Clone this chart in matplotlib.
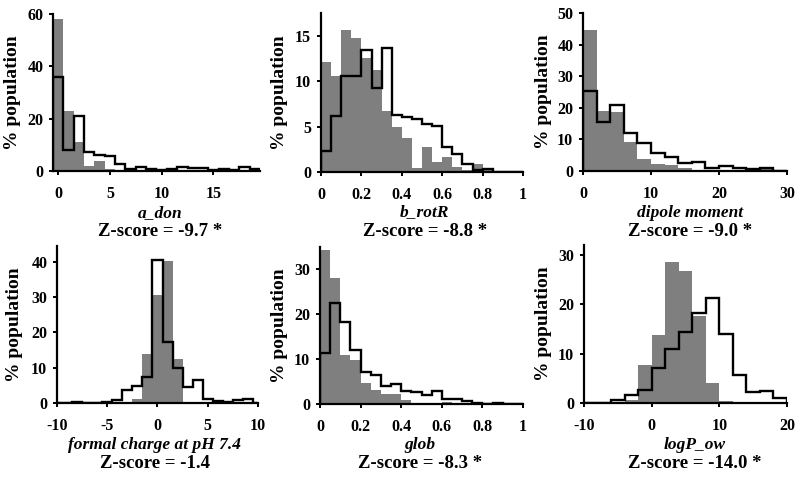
import numpy as np
import matplotlib
matplotlib.use('Agg')
import matplotlib.pyplot as plt

plt.rcParams['font.family'] = ['Liberation Serif', 'DejaVu Serif']
plt.rcParams['font.weight'] = 'bold'

# a_don : bins of width 1 centred on 0..19
adon_edges = np.arange(-0.5, 20.0, 1.0)
adon_ref = [58, 23, 11, 2, 3.7, 0.8, 0.3, 0, 0, 0, 0, 0, 0, 0, 0, 0, 0, 0, 0, 0]
adon_test = [36, 8, 21, 7.2, 6.3, 5.7, 2.5, 0.9, 1.6, 0.9, 0.3, 0.8, 1.7, 1.0, 1.2, 0.3, 0.6, 0.2, 1.7, 0.6]

# b_rotR : bins of 0.05 from 0 to 1
rotr_edges = np.linspace(0, 1, 21)
rotr_ref = [12.1, 10.6, 15.6, 14.8, 12.6, 11.2, 6.7, 4.9, 3.7, 0.4, 2.8, 1.1, 1.7, 0.5, 0.2, 0.9, 0.2, 0, 0, 0]
rotr_test = [2.3, 6.2, 10.6, 10.6, 13.4, 9.2, 13.6, 6.3, 6.0, 5.8, 5.3, 5.1, 2.8, 2.0, 0.9, 0.2, 0.3, 0, 0, 0]

# dipole moment : bins of 2 from 0 to 30
dip_edges = np.arange(0, 31, 2)
dip_ref = [44.5, 19, 18.6, 9.1, 3.7, 2.2, 2.0, 0.8, 0.4, 0.2, 0.1, 0.1, 0.3, 0.5, 0]
dip_test = [25.2, 15.6, 21, 12.1, 8.8, 5.8, 4.3, 2.4, 2.7, 1.0, 1.6, 0.8, 0.6, 1.0, 0]

# formal charge at pH 7.4 : bins of width 1 centred on -10..10
chg_edges = np.arange(-10.5, 11.0, 1.0)
chg_ref = [0, 0, 0, 0, 0, 0, 0, 0, 1.1, 13.8, 30.5, 40.3, 12.6, 0, 0, 0, 0, 0, 0, 0, 0]
chg_test = [0, 0, 0.3, 0.1, 0, 0.3, 0.8, 3.6, 4.9, 7.4, 40.6, 17.4, 10.0, 4.4, 6.5, 1.0, 0.6, 0.3, 0.8, 1.0, 0]

# glob : bins of 0.05 from 0 to 1
glob_edges = np.linspace(0, 1, 21)
glob_ref = [34.4, 28.2, 10.9, 9.8, 4.6, 3.2, 2.2, 2.2, 1.0, 0.2, 0.1, 0.1, 0.4, 0, 0, 0, 0, 0, 0, 0]
glob_test = [11.3, 22.6, 18.2, 12.0, 7.1, 6.5, 4.0, 4.4, 2.9, 2.6, 1.9, 2.8, 1.1, 1.1, 0.7, 0.2, 0.1, 0.2, 0, 0]

# logP_ow : bins of 2 from -10 to 20
logp_edges = np.arange(-10, 21, 2)
logp_ref = [0, 0, 0.2, 0.6, 7.7, 13.7, 28.6, 26.7, 17.7, 4.1, 0.4, 0, 0, 0, 0]
logp_test = [0, 0.1, 0.7, 1.6, 2.6, 7.1, 11.0, 14.4, 18.3, 21.3, 14.0, 5.6, 2.2, 2.5, 1.0]

panels = [
    ('a_don', 'Z-score = -9.7 *', adon_edges, adon_ref, adon_test, (-0.5, 19.5), (0, 60), [0, 5, 10, 15], [0, 20, 40, 60]),
    ('b_rotR', 'Z-score = -8.8 *', rotr_edges, rotr_ref, rotr_test, (0, 1), (0, 17.5), [0, 0.2, 0.4, 0.6, 0.8, 1], [0, 5, 10, 15]),
    ('dipole moment', 'Z-score = -9.0 *', dip_edges, dip_ref, dip_test, (0, 30), (0, 50), [0, 10, 20, 30], [0, 10, 20, 30, 40, 50]),
    ('formal charge at pH 7.4', 'Z-score = -1.4', chg_edges, chg_ref, chg_test, (-10, 10), (0, 44.5), [-10, -5, 0, 5, 10], [0, 10, 20, 30, 40]),
    ('glob', 'Z-score = -8.3 *', glob_edges, glob_ref, glob_test, (0, 1), (0, 35), [0, 0.2, 0.4, 0.6, 0.8, 1], [0, 10, 20, 30]),
    ('logP_ow', 'Z-score = -14.0 *', logp_edges, logp_ref, logp_test, (-10, 20), (0, 32), [-10, 0, 10, 20], [0, 10, 20, 30]),
]

# axes boxes in pixels: left, right, top, bottom
boxes = [(53, 260, 14, 171), (321, 523, 13, 172), (583, 787, 13, 171),
         (57, 258, 246, 403), (320, 523, 247, 404), (584, 787, 245, 403)]
# label centres: x of name/z lines, y name, y z-score, x of y label
label_pos = [(160, 213, 232, 13), (425, 212, 232, 279), (690, 213, 232, 543),
             (155, 445, 464, 15), (420, 445, 464, 280), (695, 445, 464, 544)]

W, H = 800, 478
fig = plt.figure(figsize=(8, 4.78), dpi=100)

for (name, zs, edges, ref, test, xl, yl, xt, yt), (l, r, t, b), (lx, ly1, ly2, yx) in zip(panels, boxes, label_pos):
    ax = fig.add_axes([l / W, 1 - b / H, (r - l) / W, (b - t) / H])
    ax.bar(edges[:-1], ref, width=np.diff(edges), align='edge', color='#7f7f7f', linewidth=0)
    ax.stairs(test, edges, color='black', linewidth=1.7, baseline=0)
    ax.set_xlim(*xl)
    ax.set_ylim(*yl)
    ax.set_xticks(xt)
    ax.set_xticklabels([('%g' % v) for v in xt])
    ax.set_yticks(yt)
    for s in ['top', 'right']:
        ax.spines[s].set_visible(False)
    for s in ['left', 'bottom']:
        ax.spines[s].set_linewidth(1.6)
    ax.tick_params(direction='out', length=3, width=1.4, labelsize=11.5)
    ax.tick_params(axis='x', pad=8)
    ax.tick_params(axis='y', pad=4)
    fig.text(yx / W, 1 - ((t + b) / 2) / H, '% population', rotation=90, ha='center', va='center',
             fontsize=14, fontweight='bold')
    fig.text(lx / W, 1 - ly1 / H, name, ha='center', va='center', fontsize=12.5,
             fontstyle='italic', fontweight='bold')
    fig.text(lx / W, 1 - ly2 / H, zs, ha='center', va='center', fontsize=13.5, fontweight='bold')

fig.savefig('out.png', dpi=100)
